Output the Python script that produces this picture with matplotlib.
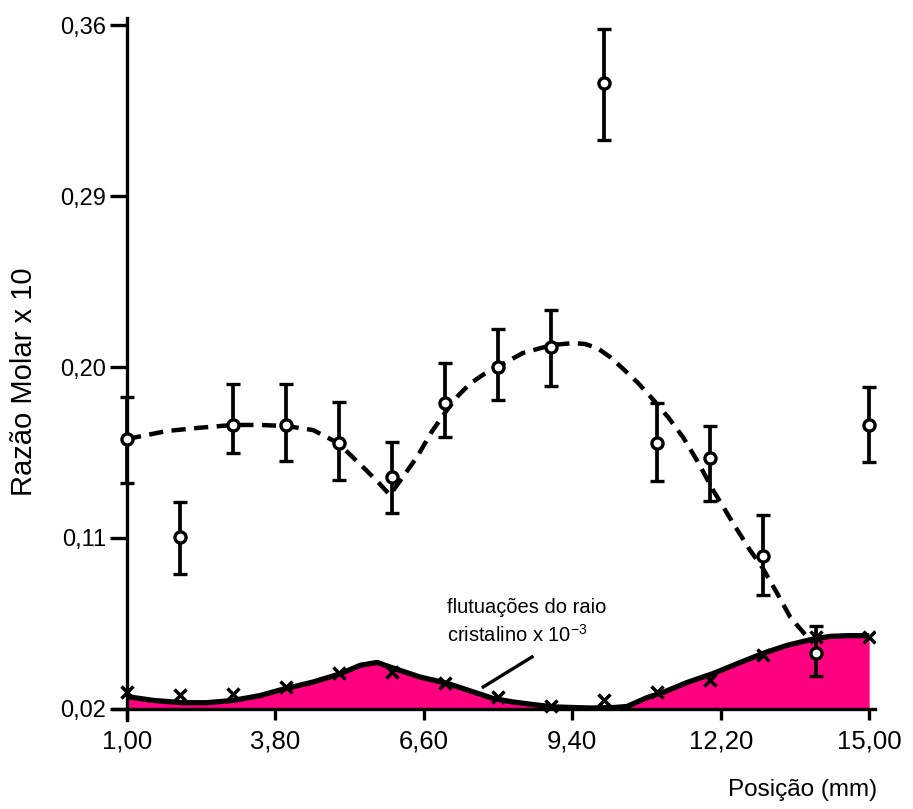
import matplotlib
matplotlib.use("Agg")
import matplotlib.pyplot as plt

plt.rcParams['font.family'] = ['Liberation Sans', 'DejaVu Sans']
plt.rcParams['mathtext.fontset'] = 'custom'
plt.rcParams['mathtext.rm'] = 'Liberation Sans'
plt.rcParams['mathtext.it'] = 'Liberation Sans'

# Measured molar ratio (x10) with error bars
pos = [1, 2, 3, 4, 5, 6, 7, 8, 9, 10, 11, 12, 13, 14, 15]
ratio = [0.162, 0.1105, 0.1695, 0.1695, 0.160, 0.1421, 0.181, 0.200, 0.2105,
         0.3495, 0.160, 0.1521, 0.1005, 0.0495, 0.1695]
err_low = [0.139, 0.091, 0.1547, 0.1505, 0.1405, 0.1232, 0.1632, 0.1826, 0.190,
           0.3195, 0.140, 0.1295, 0.080, 0.0374, 0.150]
err_high = [0.184, 0.129, 0.191, 0.191, 0.1816, 0.1605, 0.2021, 0.220, 0.230,
            0.378, 0.181, 0.169, 0.1221, 0.0637, 0.1895]

# Fitted trend (dashed)
fit_x = [1.0, 1.75, 2.32, 3.0, 3.51, 4.02, 4.51, 4.98, 5.45, 5.75, 5.96, 6.2,
         6.47, 6.75, 7.04, 7.25, 7.47, 7.72, 7.98, 8.47, 9.02, 9.42, 9.64, 9.87,
         10.11, 10.36, 10.64, 10.92, 11.21, 11.49, 11.77, 12.06, 12.43, 12.75,
         12.98, 13.26, 13.51, 13.83]
fit_y = [0.1621, 0.1663, 0.1679, 0.1695, 0.1695, 0.1689, 0.1668, 0.160, 0.1474,
         0.139, 0.1326, 0.1420, 0.1526, 0.1660, 0.1775, 0.1850, 0.1912, 0.1960,
         0.2000, 0.2074, 0.2116, 0.2126, 0.2121, 0.2100, 0.2053, 0.1990,
         0.1916, 0.1830, 0.1735, 0.1630, 0.1500, 0.1350, 0.1179, 0.1037,
         0.0947, 0.0811, 0.0684, 0.0579]

# Crystal radius fluctuations (x10^-3), curve and measured points
rad_x = [1.0, 1.5, 2.06, 2.5, 3.0, 3.5, 3.89, 4.51, 5.02, 5.4, 5.72, 5.96,
         6.53, 7.04, 7.53, 7.91, 8.28, 8.7, 9.04, 9.74, 10.2, 10.43, 10.81,
         11.11, 11.57, 12.06, 12.57, 13.0, 13.45, 13.94, 14.26, 14.6, 15.0]
rad_y = [0.0265, 0.0245, 0.0233, 0.0233, 0.0245, 0.0270, 0.0300, 0.0342,
         0.0385, 0.0430, 0.0445, 0.0421, 0.0368, 0.0335, 0.0290, 0.0255,
         0.0237, 0.0222, 0.0211, 0.0205, 0.0208, 0.0213, 0.0260, 0.0287,
         0.0340, 0.0387, 0.0445, 0.0493, 0.0535, 0.0568, 0.0582, 0.0586,
         0.0586]
rad_pts = [0.029, 0.0274, 0.0279, 0.0316, 0.039, 0.0395, 0.0337, 0.0263, 0.0216,
           0.0247, 0.029, 0.0353, 0.0484, 0.0579, 0.0580]

xticks = [1.0, 3.8, 6.6, 9.4, 12.2, 15.0]
xtick_labels = ['1,00', '3,80', '6,60', '9,40', '12,20', '15,00']
yticks = [0.02, 0.11, 0.20, 0.29, 0.38]
ytick_labels = ['0,02', '0,11', '0,20', '0,29', '0,36']

fig = plt.figure(figsize=(9.13, 8.09), dpi=100)
ax = fig.add_axes([113 / 913, 1 - 720 / 809, (875 - 113) / 913, (720 - 18) / 809])
ax.set_xlim(0.736, 15.11)
ax.set_ylim(0.0142, 0.3837)

# Filled radius profile
ax.fill_between(rad_x, 0.02, rad_y, color='#FF0080', lw=0, zorder=1)
ax.plot(rad_x, rad_y, color='black', lw=3.8, zorder=2, solid_capstyle='butt',
        solid_joinstyle='round')
ax.plot(pos, rad_pts, ls='none', marker='x', ms=8, mew=2.5, color='black', zorder=3)

# Dashed trend
ax.plot(fit_x, fit_y, color='black', lw=3.2, dashes=(3.2, 1.9), zorder=4,
        dash_joinstyle='round')

# Error bars and open circles
yerr = [[r - lo for r, lo in zip(ratio, err_low)],
        [hi - r for r, hi in zip(ratio, err_high)]]
ax.errorbar(pos, ratio, yerr=yerr, fmt='o', color='black', ms=8, mfc='white',
            mec='black', mew=2.4, elinewidth=2.7, capsize=5, capthick=3.2, zorder=5,
            clip_on=False)

# Annotation
ax.plot([7.72, 8.64], [0.0316, 0.0474], color='black', lw=2.4, zorder=6)
ax.text(7.04, 0.0705, 'flutuações do raio', fontsize=14.5, ha='left', va='baseline')
ax.text(7.04, 0.0553, r'cristalino x 10$^{-3}$', fontsize=14.5, ha='left', va='baseline')

# Axes styling
for s in ['top', 'right']:
    ax.spines[s].set_visible(False)
ax.spines['left'].set_position(('data', 1.0))
ax.spines['bottom'].set_position(('data', 0.02))
ax.spines['left'].set_linewidth(2.4)
ax.spines['bottom'].set_linewidth(2.4)

ax.set_xticks(xticks)
ax.set_xticklabels(xtick_labels)
ax.set_yticks(yticks)
ax.set_yticklabels(ytick_labels)
ax.tick_params(axis='x', direction='out', length=8, width=2.4, labelsize=18.5, pad=7)
ax.tick_params(axis='y', direction='out', length=12, width=2.4, labelsize=17, pad=3)

fig.text(24 / 913, 1 - 382 / 809, 'Razão Molar x 10', rotation=90, fontsize=21,
         ha='center', va='center')
fig.text(803 / 913, 1 - 790 / 809, 'Posição (mm)', fontsize=17.5, ha='center', va='center')

fig.savefig('out.png', dpi=100)
